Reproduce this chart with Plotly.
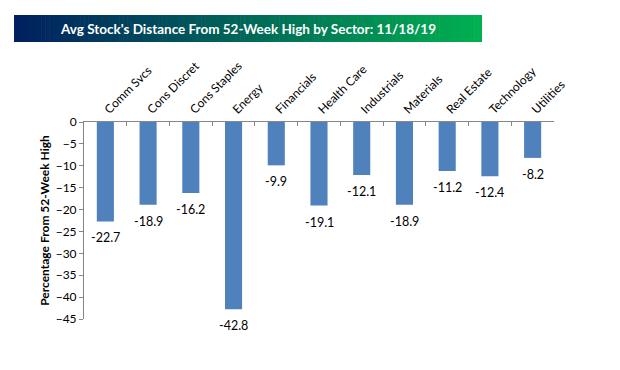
import plotly.graph_objects as go

sectors = ["Comm Svcs", "Cons Discret", "Cons Staples", "Energy", "Financials",
           "Health Care", "Industrials", "Materials", "Real Estate", "Technology", "Utilities"]
distance = [-22.7, -18.9, -16.2, -42.8, -9.9, -19.1, -12.1, -18.9, -11.2, -12.4, -8.2]
y_ticks = [0, -5, -10, -15, -20, -25, -30, -35, -40, -45]

FONT = "Lato, 'Open Sans', sans-serif"

fig = go.Figure(go.Bar(
    x=sectors, y=distance,
    marker=dict(color="#4F81BD", line=dict(width=0)),
    width=0.4,
    cliponaxis=False,
))

OFF = 8  # browser body margin
W, H = 620, 370
PL, PR, PT, PB = 84, 554, 122, 319
L = PL - OFF
T = PT - OFF
R = W - (PR - OFF)
B = H - (PB - OFF)
pw, ph = PR - PL, PB - PT

def px(x):
    return (x - PL) / pw

def py(y):
    return (PB - y) / ph

# gradient banner
n = 120
x0p, x1p = 14, 482
c0 = (0, 32, 96)
c1 = (0, 176, 80)
shapes = []
for i in range(n):
    t = i / (n - 1)
    col = tuple(round(c0[k] + (c1[k] - c0[k]) * t) for k in range(3))
    xa = x0p + (x1p - x0p) * i / n
    xb = x0p + (x1p - x0p) * (i + 1) / n + 0.6
    shapes.append(dict(type="rect", xref="paper", yref="paper",
                       x0=px(xa), x1=px(min(xb, x1p)), y0=py(42), y1=py(15),
                       fillcolor=f"rgb{col}", line=dict(width=0), layer="below"))

annotations = [dict(text="<b>Avg Stock's Distance From 52-Week High by Sector: 11/18/19</b>",
                    xref="paper", yref="paper", x=px(248), y=py(28.5),
                    xanchor="center", yanchor="middle", showarrow=False,
                    font=dict(size=13.5, color="white", family=FONT))]
for s, v in zip(sectors, distance):
    annotations.append(dict(x=s, y=v, xref="x", yref="y", text=f"{v:.1f}",
                            showarrow=False, xanchor="center", yanchor="top", yshift=-7,
                            font=dict(size=12.5, color="#000000", family=FONT)))

fig.update_layout(
    width=W, height=H,
    margin=dict(l=L, r=R, t=T, b=B),
    paper_bgcolor="white", plot_bgcolor="white",
    showlegend=False,
    font=dict(family=FONT, color="#000000"),
    shapes=shapes,
    annotations=annotations,
    xaxis=dict(side="top", tickangle=-45, showline=True, linecolor="#868686", linewidth=1,
               ticks="inside", tickson="boundaries", ticklen=4, tickcolor="#868686",
               tickfont=dict(size=12, color="#000000"), showgrid=False, zeroline=False,
               automargin=False, fixedrange=True),
    yaxis=dict(range=[-45, 0], tickvals=y_ticks, showline=True, linecolor="#868686", linewidth=1,
               ticks="outside", ticklen=4, tickcolor="#868686", showgrid=False, zeroline=False,
               tickfont=dict(size=12, color="#000000"),
               title=dict(text="<b>Percentage From 52-Week High</b>", font=dict(size=12), standoff=3),
               automargin=False),
    bargap=0.6,
)

fig.write_html("out.html")
